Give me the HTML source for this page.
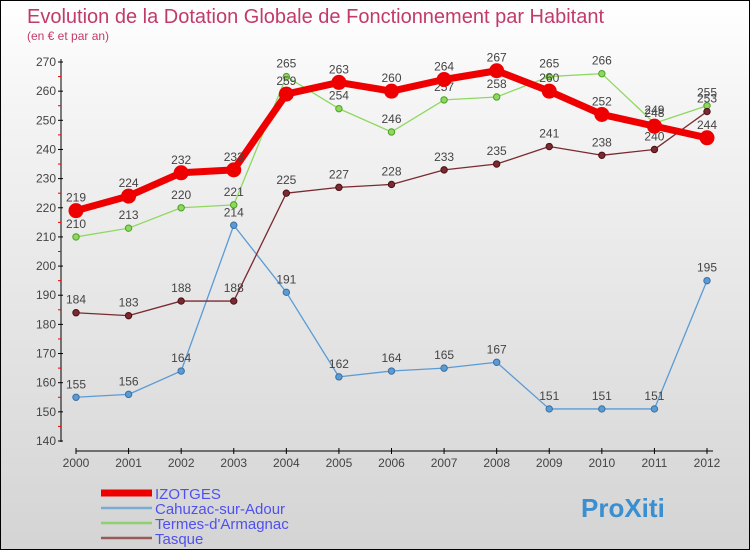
<!DOCTYPE html>
<html><head><meta charset="utf-8"><style>
body{margin:0}
#c{position:relative;width:750px;height:550px;box-sizing:border-box;border:1px solid #000;background:linear-gradient(#fff 0%,#f4f4f4 20%,#d4d4d4 100%);font-family:"Liberation Sans",sans-serif;overflow:hidden}
</style></head><body>
<div id="c">
<svg id="s" width="750" height="550" style="position:absolute;left:0;top:0">
<text x="26" y="22" font-size="20" fill="#c23a6b">Evolution de la Dotation Globale de Fonctionnement par Habitant</text>
<text x="26" y="39" font-size="12" fill="#c23a6b">(en € et par an)</text>
</svg>
</div>
<script>
const years=[2000,2001,2002,2003,2004,2005,2006,2007,2008,2009,2010,2011,2012];
const yTicks=[140,150,160,170,180,190,200,210,220,230,240,250,260,270];
const izotges=[219,224,232,233,259,263,260,264,267,260,252,248,244];
const cahuzac=[155,156,164,214,191,162,164,165,167,151,151,151,195];
const termes=[210,213,220,221,265,254,246,257,258,265,266,249,255];
const tasque=[184,183,188,188,225,227,228,233,235,241,238,240,253];
const s=document.getElementById('s');const NS='http://www.w3.org/2000/svg';
function el(t,a,p){const e=document.createElementNS(NS,t);for(const k in a)e.setAttribute(k,a[k]);(p||s).appendChild(e);return e;}
const X=i=>75+i*(706-75)/(years.length-1);
const Y=v=>440-(v-140)*(440-61)/130;
let e;
e=el('line',{x1:60,y1:58,x2:60,y2:441,stroke:'#000'});


e=el('line',{x1:75,y1:450,x2:712,y2:450,stroke:'#000'});


yTicks.forEach((v,i)=>{
 el('line',{x1:57,x2:62,y1:Y(v),y2:Y(v),stroke:'#000'});
 if(i<yTicks.length-1)el('line',{x1:57,x2:60,y1:Y(v+5),y2:Y(v+5),stroke:'#e00'});
 e=el('text',{x:55,y:Y(v)+4,'font-size':12,'text-anchor':'end',fill:'#444'});e.textContent=v;
 
 
});
years.forEach((y,i)=>{
 el('line',{x1:X(i),x2:X(i),y1:447,y2:453,stroke:'#000'});
 e=el('text',{x:X(i),y:466,'font-size':12,'text-anchor':'middle',fill:'#444'});e.textContent=y;
 
 
});
function series(d,col,dark,w,r,name){
 const g=el('g',{});
 
 
 el('polyline',{points:d.map((v,i)=>X(i)+','+Y(v)).join(' '),fill:'none',stroke:col,'stroke-width':w,'stroke-linejoin':'round'},g);
 d.forEach((v,i)=>{
  const c=el('circle',{cx:X(i),cy:Y(v),r:r,fill:col,stroke:dark,'stroke-width':1},g);
  
  
  const t=el('text',{x:X(i),y:Y(v)-9,'font-size':12,'text-anchor':'middle',fill:'#444'},g);t.textContent=v;
  
  
 });
}
series(cahuzac,'#5b9bd5','#3a6fa0',1.3,3.2,'cahuzac');
series(termes,'#8fd860','#4aa020',1.3,3.2,'termes');
series(tasque,'#7a2a30','#4a1015',1.3,3.2,'tasque');
series(izotges,'#ee0000','#ee0000',7,7,'izotges');
const leg=[['IZOTGES','#ee0000',7],['Cahuzac-sur-Adour','#7aabd0',2.5],['Termes-d\'Armagnac','#90d070',2.5],['Tasque','#9a5a5a',2.5]];
leg.forEach((l,i)=>{
 const y=492+i*15;
 const g=el('g',{});
 
 
 el('line',{x1:100,x2:151,y1:y,y2:y,stroke:l[1],'stroke-width':l[2]},g);
 const t=el('text',{x:154,y:y+6,'font-size':15,fill:'#5050f0'},g);t.textContent=l[0];
});
e=el('text',{x:580,y:516,'font-size':26,'font-weight':'bold',fill:'#3a8fd0'});
e.textContent='ProXiti';


</script>
</body></html>
